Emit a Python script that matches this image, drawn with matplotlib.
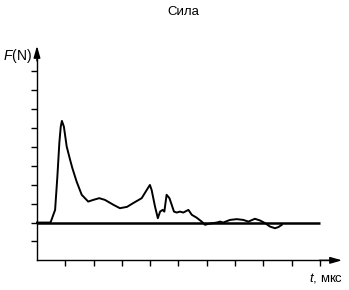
import matplotlib
matplotlib.use("Agg")
import matplotlib.pyplot as plt

plt.rcParams["font.family"] = ["Liberation Sans", "DejaVu Sans"]
plt.rcParams["mathtext.fontset"] = "custom"
plt.rcParams["mathtext.rm"] = "Liberation Sans"
plt.rcParams["mathtext.it"] = "Liberation Sans:italic"

title = "Сила"
y_label = "$F$(N)"
x_label = "$t$, мкс"

t = [0, 0.46, 0.49, 0.64, 0.72, 0.79, 0.84, 0.88, 0.95, 1.05, 1.17, 1.25, 1.40,
     1.58, 1.81, 1.99, 2.20, 2.40, 2.70, 2.93, 3.18, 3.40, 3.70, 3.88, 3.99, 4.05,
     4.17, 4.27, 4.35, 4.44, 4.50, 4.58, 4.68, 4.76, 4.84, 4.94, 5.05, 5.17, 5.35,
     5.47, 5.64, 5.82, 5.94, 6.05, 6.35, 6.47, 6.58, 6.82, 7.06, 7.29, 7.47, 7.70,
     7.88, 8.06, 8.23, 8.41, 8.53, 8.65]
F = [0, 0, 0.05, 0.67, 2.43, 4.22, 5.08, 5.38, 5.08, 4.02, 3.32, 2.88, 2.17,
     1.47, 1.11, 1.20, 1.29, 1.20, 0.94, 0.76, 0.83, 1.03, 1.29, 1.73, 1.99, 1.73,
     0.85, 0.23, 0.58, 0.67, 0.58, 1.47, 1.29, 0.94, 0.58, 0.53, 0.58, 0.53, 0.67,
     0.41, 0.26, 0.05, -0.12, -0.07, 0, 0.05, 0, 0.14, 0.18, 0.14, 0.05, 0.20,
     0.11, -0.03, -0.21, -0.30, -0.24, -0.12]

x_ticks = list(range(1, 11))
y_ticks = list(range(-1, 9))
zero_line_end = 10.0
x_axis_end = 10.78
y_axis_end = 9.35
y_axis_bottom = -2

fig = plt.figure(figsize=(3.49, 2.90), dpi=100)
ax = fig.add_axes([0, 0, 1, 1])
ax.set_xlim(-1.307, 11.025)
ax.set_ylim(-3.57, 11.78)
ax.patch.set_alpha(0)

for s in ["top", "right"]:
    ax.spines[s].set_visible(False)
ax.spines["left"].set_position(("data", 0))
ax.spines["bottom"].set_position(("data", y_axis_bottom))
ax.spines["left"].set_bounds(y_axis_bottom, y_axis_end - 0.5)
ax.spines["bottom"].set_bounds(0, x_axis_end - 0.5)
for s in ["left", "bottom"]:
    ax.spines[s].set_linewidth(1.0)
ax.set_xticks(x_ticks)
ax.set_yticks(y_ticks)
ax.set_xticklabels([])
ax.set_yticklabels([])
ax.tick_params(axis="both", direction="out", length=4.5, width=1.0, color="black")

# arrows
ax.annotate("", xy=(0, y_axis_end), xytext=(0, y_axis_end - 0.8),
            arrowprops=dict(arrowstyle="-|>,head_length=0.7,head_width=0.2",
                            color="black", lw=1.0, shrinkA=0, shrinkB=0))
ax.annotate("", xy=(x_axis_end, y_axis_bottom), xytext=(x_axis_end - 0.8, y_axis_bottom),
            arrowprops=dict(arrowstyle="-|>,head_length=0.7,head_width=0.2",
                            color="black", lw=1.0, shrinkA=0, shrinkB=0))

ax.hlines(0, 0, zero_line_end, color="black", lw=1.8)
ax.plot(t, F, color="black", lw=1.4, solid_joinstyle="round")

fig.text(183 / 349, 1 - 12 / 290, title, ha="center", va="center", fontsize=9.5)
fig.text(32 / 349, 1 - 56 / 290, y_label, ha="right", va="center", fontsize=10)
fig.text(343 / 349, 1 - 278 / 290, x_label, ha="right", va="center", fontsize=9.5)

fig.savefig("out.png", dpi=100)
